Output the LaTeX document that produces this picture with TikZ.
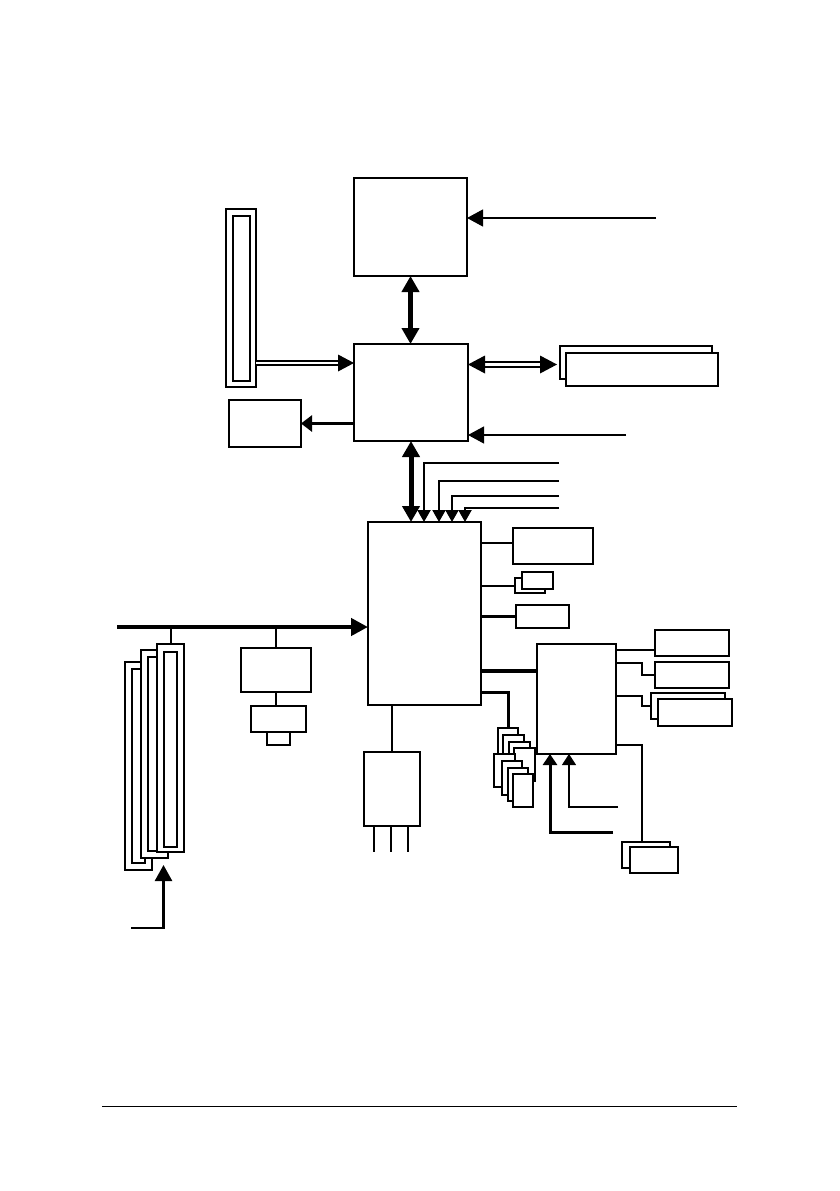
\documentclass[tikz,border=0pt]{standalone}
\usetikzlibrary{arrows.meta,calc}
\begin{document}
\begin{tikzpicture}[x=1pt,y=-1pt,
  box/.style={draw, fill=white, inner sep=0pt, outer sep=0pt, anchor=north west, line width=1.2pt},
  sz/.style 2 args={minimum width=#1pt, minimum height=#2pt},
  thinl/.style={line width=1.2pt},
  medl/.style={line width=2pt},
  thickl/.style={line width=3pt},
  heavyl/.style={line width=4.5pt},
  bighead/.style={-{Triangle[length=16pt,width=17pt]}},
  bigboth/.style={{Triangle[length=16pt,width=17pt]}-{Triangle[length=16pt,width=17pt]}},
  smallhead/.style={-{Triangle[length=12pt,width=13pt]}},
  siohead/.style={-{Triangle[length=11pt,width=14pt]}},
  dline/.style={line width=1.4pt, double distance=2.7pt},
  dlinebold/.style={line width=2.4pt, double distance=2.7pt}]
\useasboundingbox (0,0) rectangle (839,1191);

% ---- boxes ----
\node[box, sz={113}{98}, line width=2pt] (cpu) at (354,178) {};
\node[box, sz={114}{97}, line width=2pt] (nb) at (354,344) {};
\node[box, sz={30}{178}] (agpo) at (226,209) {};
\node[box, sz={17}{165}] (agpi) at (233,216) {};
\node[box, sz={152}{33}] (memb) at (560,346) {};
\node[box, sz={152}{33}] (memf) at (566,353) {};
\node[box, sz={72}{47}] (vga) at (229,400) {};
\node[box, sz={113}{183}, line width=1.5pt] (sb) at (368,522) {};
\node[box, sz={80}{36}] (ra) at (513,528) {};
\node[box, sz={30}{15}] (pb) at (515,578) {};
\node[box, sz={31}{17}] (pf) at (522,572) {};
\node[box, sz={53}{23}] (rc) at (516,605) {};
\node[box, sz={79}{110}] (sio) at (537,644) {};
\node[box, sz={74}{26}] (A) at (655,630) {};
\node[box, sz={74}{26}] (B) at (655,662) {};
\node[box, sz={74}{26}] (Cb) at (651,693) {};
\node[box, sz={74}{27}] (Cf) at (658,699) {};
\node[box, sz={48}{26}] (Db) at (622,842) {};
\node[box, sz={48}{26}] (Df) at (630,847) {};
\node[box, sz={70}{44}] (E) at (241,648) {};
\node[box, sz={55}{26}] (F) at (251,706) {};
\node[box, sz={23}{13}] (G) at (267,732) {};
\node[box, sz={56}{74}] (H) at (364,752) {};
% PCI slots
\node[box, sz={27}{208}] (s1o) at (125,662) {};
\node[box, sz={13}{194}] (s1i) at (132,669) {};
\node[box, sz={27}{208}] (s2o) at (141,650) {};
\node[box, sz={13}{194}] (s2i) at (148,657) {};
\node[box, sz={27}{208}] (s3o) at (157,644) {};
\node[box, sz={13}{195}] (s3i) at (164,652) {};
% stacked small boxes
\node[box, sz={20}{33}] (b1) at (498,728) {};
\node[box, sz={21}{33}] (b2) at (503,735) {};
\node[box, sz={21}{33}] (b3) at (509,742) {};
\node[box, sz={21}{33}] (b4) at (514,748) {};
\node[box, sz={21}{33}] (b5) at (494,754) {};
\node[box, sz={20}{34}] (b6) at (502,761) {};
\node[box, sz={20}{33}] (b7) at (508,768) {};
\node[box, sz={20}{33}] (b8) at (513,774) {};

% ---- connectors ----
\coordinate (cpuIn) at (656,218);
\draw[thinl, bighead] (cpuIn) -- (cpuIn -| cpu.east);
\draw[line width=5pt, bigboth] (cpu.south) -- (cpu.south |- nb.north);

% AGP -> NB (double line)
\coordinate (agpA) at (256,363);
\draw[dline] (agpA) -- ($(agpA -| nb.west)+(-15,0)$);
\fill (agpA -| nb.west) -- ++(-16,-8.5) -- ++(0,17) -- cycle;

% NB <-> memory (double line)
\coordinate (memL) at ($(memb.west)+(-3,2)$);
\coordinate (nbR) at (memL -| nb.east);
\draw[dlinebold] ($(nbR)+(15,0)$) -- ($(memL)+(-15,0)$);
\fill (nbR) -- ++(17,-9) -- ++(0,18) -- cycle;
\fill (memL) -- ++(-17,-9) -- ++(0,18) -- cycle;

\draw[thickl, -{Triangle[length=11pt,width=16pt]}] (vga.east -| nb.west) -- (vga.east);
\coordinate (nbIn) at (626,435);
\draw[thinl, bighead] (nbIn) -- (nbIn -| nb.east);
\draw[line width=5pt, bigboth] (nb.south) -- (nb.south |- sb.north);

% four inputs into SB
\coordinate (s1) at (559,463);
\coordinate (s2) at (559,481);
\coordinate (s3) at (559,496);
\coordinate (s4) at (559,508);
\draw[medl, smallhead] (s1) -| ($(sb.north west)+(56,0)$);
\draw[medl, smallhead] (s2) -| ($(sb.north west)+(71,0)$);
\draw[medl, smallhead] (s3) -| ($(sb.north west)+(84,0)$);
\draw[medl, smallhead] (s4) -| ($(sb.north west)+(97,0)$);

% SB right side
\draw[medl] ($(sb.north east)+(0,21)$) -- ($(ra.north west)+(0,15)$);
\draw[medl] (pb.west -| sb.east) -- (pb.west);
\draw[thickl] (rc.west -| sb.east) -- (rc.west);
\coordinate (sioIn) at ($(sio.north west)+(0,27)$);
\draw[heavyl] (sioIn -| sb.east) -- (sioIn);
\coordinate (stk) at ($(sb.north east)+(0,170)$);
\draw[thickl] (stk) -| (b1.north);

% Super I/O right side
\coordinate (oa) at ($(sio.north east)+(0,6)$);
\draw[medl] (oa) -- (oa -| A.west);
\draw[medl] ($(sio.north east)+(0,19)$) -| ($(B.west)+(-13,0)$) -- (B.west);
\draw[medl] ($(sio.north east)+(0,52)$) -| ($(Cb.west)+(-9,0)$) -- (Cb.west);
\draw[medl] ($(sio.north east)+(0,101)$) -| ($(Db.north west)+(20,0)$);

% Super I/O bottom inputs
\coordinate (t1) at (613,832);
\coordinate (t2) at (618,807);
\draw[thickl, siohead] (t1) -| ($(sio.south west)+(13,0)$);
\draw[thinl, siohead] (t2) -| ($(sio.south west)+(32,0)$);

% PCI bus
\coordinate (bus) at (117,627);
\draw[heavyl, -{Triangle[length=17pt,width=17pt]}] (bus) -- (bus -| sb.west);
\draw[medl] (bus -| s3o.north) -- (s3o.north);
\draw[medl] (bus -| E.north) -- (E.north);
\draw[medl] (E.south) -- (E.south |- F.north);
\draw[medl] (sb.south -| H.north) -- (H.north);
\draw[medl] ($(H.south west)+(10,0)$) -- ++(0,26);
\draw[medl] ($(H.south west)+(27,0)$) -- ++(0,26);
\draw[thinl] ($(H.south west)+(44,0)$) -- ++(0,26);

% arrow into PCI slots
\coordinate (pci) at (131,928);
\draw[line width=2.5pt, bighead] (pci) -| ($(s2o.south)+(9,7)$);

% footer rule
\draw[line width=1pt] (102,1106) -- (737,1106);
\end{tikzpicture}
\end{document}
